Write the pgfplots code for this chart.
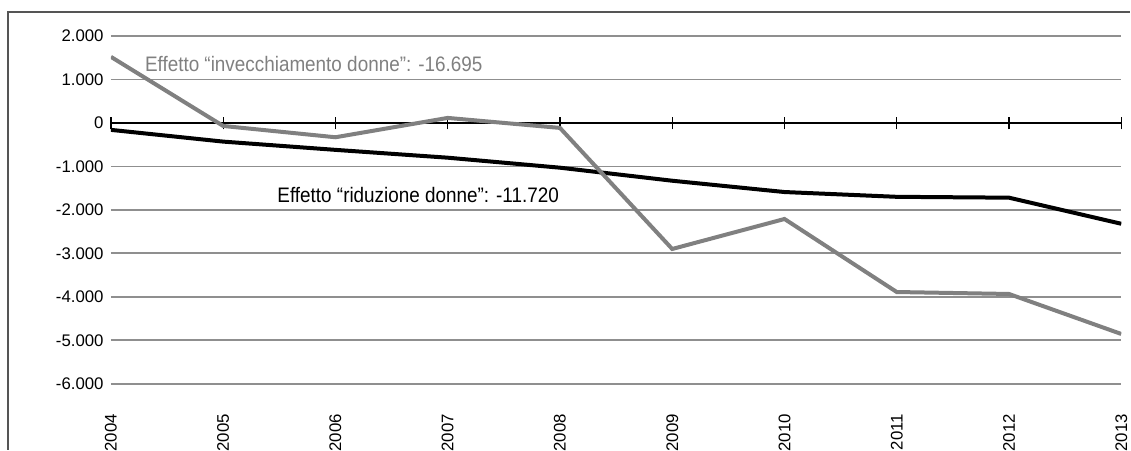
\documentclass[border=0pt]{standalone}
\usepackage{fontspec}
\setmainfont{Liberation Sans}
\newfontfamily\narrowfont[FakeStretch=0.9]{Liberation Sans}
\usepackage{pgfplots}
\pgfplotsset{compat=1.18}
\usetikzlibrary{calc}
\definecolor{sergray}{HTML}{808080}
\definecolor{gridgray}{HTML}{8F8F8F}
\definecolor{framegray}{HTML}{555555}

\pgfplotsset{
  base/.style={
    scale only axis,
    width=505.5pt, height=174pt,
    xmin=0, xmax=9,
    ymin=-6000, ymax=2000,
  },
}

\begin{document}
\begin{tikzpicture}
% zero line with crossing ticks
\begin{axis}[
  base,
  axis x line=middle,
  axis y line=none,
  axis line style={black, line width=1pt, -},
  xtick={0,...,9},
  xticklabels={},
  tick align=center,
  major tick length=6.4pt,
  tick style={black, line width=0.6pt},
]
\end{axis}

\begin{axis}[
  base,
  xtick={0,...,9},
  xticklabels={2004,2005,2006,2007,2008,2009,2010,2011,2012,2013},
  ytick={-6000,-5000,-4000,-3000,-2000,-1000,1000,2000},
  extra y ticks={0},
  extra y tick style={grid=none},
  axis line style={draw=none},
  tick style={draw=none},
  xticklabel pos=lower,
  yticklabel pos=left,
  ymajorgrids,
  grid style={gridgray, line width=0.85pt},
  tick label style={font=\fontsize{8.4}{10}\selectfont},
  /pgf/number format/assume math mode=true,
  /pgf/number format/1000 sep={.},
  x tick label style={yshift=-15pt, rotate=90, anchor=east, inner sep=0pt},
  y tick label style={anchor=east, inner sep=0pt, xshift=-3.5pt},
]
\coordinate (ll) at (rel axis cs:0,0);
\coordinate (ur) at (rel axis cs:1,1);

% riduzione donne
\addplot[black, line width=2pt, mark=none] coordinates {
  (0,-160) (1,-430) (2,-620) (3,-800) (4,-1030)
  (5,-1330) (6,-1590) (7,-1700) (8,-1720) (9,-2320)
};
% invecchiamento donne
\addplot[sergray, line width=2pt, mark=none] coordinates {
  (0,1520) (1,-70) (2,-330) (3,115) (4,-115)
  (5,-2900) (6,-2210) (7,-3890) (8,-3935) (9,-4855)
};

\node[anchor=west, inner sep=0pt, text=sergray, font=\narrowfont\fontsize{10.5}{12}\selectfont]
  at (axis cs:0.30,1356) {Effetto “invecchiamento donne”: -16.695};
\node[anchor=west, inner sep=0pt, text=black, font=\narrowfont\fontsize{10.5}{12}\selectfont]
  at (axis cs:1.48,-1655) {Effetto “riduzione donne”: -11.720};
\end{axis}
\pgfresetboundingbox
\path ($(ll)+(-55.5pt,-33pt)$) rectangle ($(ur)+(4.5pt,18pt)$);
\draw[framegray, line width=0.75pt]
  ($(ll)+(-51.5pt,-33pt)$) -- ($(ll|-ur)+(-51.5pt,12pt)$) -- ($(ur)+(4.5pt,12pt)$);
\end{tikzpicture}
\end{document}
